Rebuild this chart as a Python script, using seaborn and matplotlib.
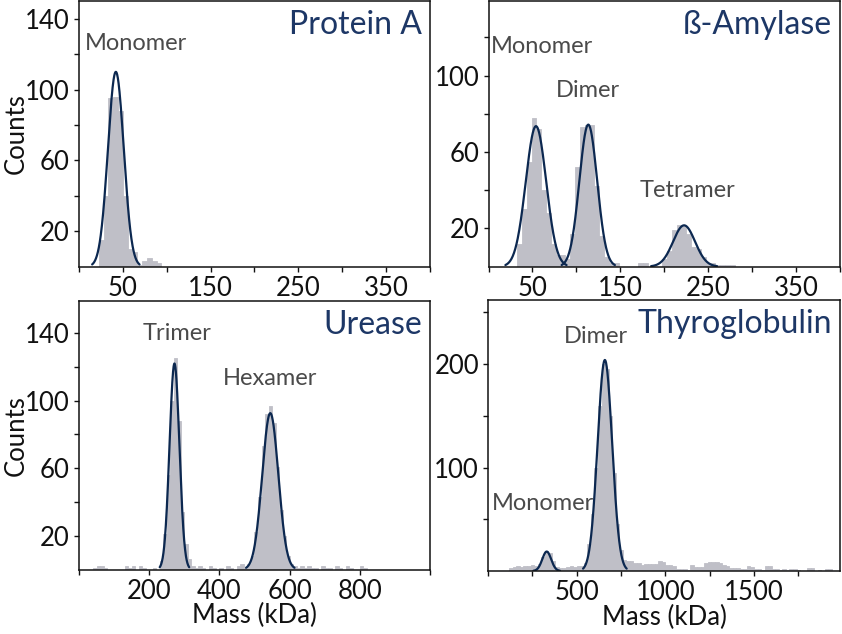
import numpy as np
import pandas as pd
import seaborn as sns
import matplotlib.pyplot as plt
from matplotlib.ticker import FixedLocator

sns.set_style("ticks")
plt.rcParams['font.family'] = ['Lato', 'DejaVu Sans']

# --- histogram data (bin start, bin width, counts per bin) ---
protA_start, protA_width = 22.5, 5.5
protA_counts = [15, 40, 95, 96, 88, 40, 10, 8, 1, 3, 5, 3, 2]
protA_fit = [(42, 9, 110)]  # (centre kDa, sigma, height)

amy_start, amy_width = 32.5, 5.5
amy_counts = [12, 30, 55, 78, 72, 40, 28, 12, 6, 6, 4, 17, 52, 73, 74, 74, 42, 16,
              5, 2, 2, 0, 0, 0, 0, 2, 2, 0, 0, 0, 4, 8, 19, 22, 21, 17, 10, 9, 5,
              2, 2, 1, 1, 1, 1]
amy_fit = [(54, 11.6, 73.5), (113.5, 10.1, 74.3), (222.5, 12.5, 21.6)]

ure_start, ure_width = 40, 10
ure_counts = [1, 2, 2, 1, 0, 0, 0, 0, 0, 2, 1, 2, 0, 2, 1, 0, 0, 1, 0,
              5, 21, 56, 100, 125, 88, 34, 15, 6, 2, 1, 2, 1, 0, 2, 1, 0, 1, 0,
              2, 1, 0, 2, 3, 1, 3, 8, 22, 43, 73, 92, 97, 87, 61, 35, 20, 8, 3,
              2, 1, 2, 1, 2, 1, 1, 0, 2, 1, 1, 0, 2, 1, 0, 2, 1, 0, 0, 2, 1, 0]
ure_fit = [(272, 14, 122), (545, 23, 92.6)]

thy_start, thy_width = 120, 20
thy_counts = [3, 4, 5, 4, 5, 5, 6, 5, 7, 14, 19, 17, 10, 4, 3, 3, 4, 5, 4, 5, 5,
              8, 26, 55, 100, 160, 200, 195, 150, 95, 45, 20, 11, 10, 10, 8, 8,
              6, 7, 7, 7, 7, 10, 9, 6, 6, 5, 2, 2, 2, 1, 6, 4, 4, 4, 8, 9, 9, 9,
              8, 6, 5, 3, 3, 3, 2, 2, 5, 4, 2, 2, 1, 5, 5, 2, 2, 1, 2, 1, 2, 2,
              1, 0, 0, 3, 3, 0, 1, 0, 2, 2, 0]
thy_fit = [(331, 25, 18.8), (659, 41, 204)]

titles = ["Protein A", "ß-Amylase", "Urease", "Thyroglobulin"]
protA_labels = [("Monomer", 6.5, 126)]
amy_labels = [("Monomer", 3, 115), ("Dimer", 77, 92), ("Tetramer", 172, 40)]
ure_labels = [("Trimer", 181, 140), ("Hexamer", 409, 113)]
thy_labels = [("Dimer", 425, 227), ("Monomer", 21, 65)]

BAR = "#bfbfc7"
LINE = "#0c2850"
TITLE = "#1d3766"

fig = plt.figure(figsize=(8.42, 6.34), dpi=100)
axes = [fig.add_axes([0.0938, 0.5795, 0.4169, 0.4189]),
        fig.add_axes([0.5802, 0.5795, 0.4175, 0.4189]),
        fig.add_axes([0.0938, 0.1017, 0.4169, 0.4235]),
        fig.add_axes([0.5796, 0.0994, 0.4180, 0.4274])]


def panel(ax, start, width, counts, fits, labels, title):
    edges = start + width * np.arange(len(counts) + 1)
    df = pd.DataFrame({"mass": edges[:-1] + width / 2, "n": counts})
    sns.histplot(data=df, x="mass", weights="n", bins=list(edges), color=BAR,
                 alpha=1, edgecolor=BAR, linewidth=0.6, ax=ax)
    for mu, sd, amp in fits:
        xs = np.linspace(mu - 3 * sd, mu + 3 * sd, 200)
        ys = amp * np.exp(-0.5 * ((xs - mu) / sd) ** 2)
        sns.lineplot(x=xs, y=ys, color=LINE, lw=1.6, ax=ax)
    for txt, x, y in labels:
        ax.text(x, y, txt, ha='left', va='center', fontsize=17,
                fontweight='normal', color='#4a4a4a')
    ax.text(0.978, 0.91, title, transform=ax.transAxes, ha='right',
            va='center', fontsize=23, color=TITLE)
    for s in ax.spines.values():
        s.set_visible(True)
        s.set_linewidth(1.1)
        s.set_color('#111111')
    ax.tick_params(which='both', direction='out', length=3.5, width=1,
                   labelsize=18.5, pad=3, colors='#111111')
    ax.set_xlabel('')
    ax.set_ylabel('')


panel(axes[0], protA_start, protA_width, protA_counts, protA_fit, protA_labels, titles[0])
panel(axes[1], amy_start, amy_width, amy_counts, amy_fit, amy_labels, titles[1])
panel(axes[2], ure_start, ure_width, ure_counts, ure_fit, ure_labels, titles[2])
panel(axes[3], thy_start, thy_width, thy_counts, thy_fit, thy_labels, titles[3])

for ax in axes[:2]:
    ax.set_xlim(0, 400)
    ax.set_xticks([50, 150, 250, 350])
    ax.xaxis.set_minor_locator(FixedLocator([0, 100, 200, 300, 400]))
axes[0].set_ylim(0, 150)
axes[0].set_yticks([20, 60, 100, 140])
axes[0].yaxis.set_minor_locator(FixedLocator([40, 80, 120]))
axes[1].set_ylim(0, 139)
axes[1].set_yticks([20, 60, 100])
axes[1].yaxis.set_minor_locator(FixedLocator([40, 80, 120]))

axes[2].set_xlim(0, 1000)
axes[2].set_xticks([200, 400, 600, 800])
axes[2].xaxis.set_minor_locator(FixedLocator([0, 1000]))
axes[2].set_ylim(0, 159)
axes[2].set_yticks([20, 60, 100, 140])
axes[2].yaxis.set_minor_locator(FixedLocator([40, 80, 120]))

axes[3].set_xlim(0, 1985)
axes[3].set_xticks([500, 1000, 1500])
axes[3].xaxis.set_minor_locator(FixedLocator([0, 250, 750, 1250, 1750]))
axes[3].set_ylim(0, 262)
axes[3].set_yticks([100, 200])
axes[3].yaxis.set_minor_locator(FixedLocator([50, 150, 250]))

for ax in (axes[0], axes[2]):
    ax.set_ylabel('Counts', fontsize=18.5, color='#111111')
    ax.yaxis.set_label_coords(-0.142, 0.5)
for ax in (axes[2], axes[3]):
    ax.set_xlabel('Mass (kDa)', fontsize=18.5, color='#111111')
    ax.xaxis.set_label_coords(0.5, -0.125)

fig.savefig('out.png', dpi=100)
